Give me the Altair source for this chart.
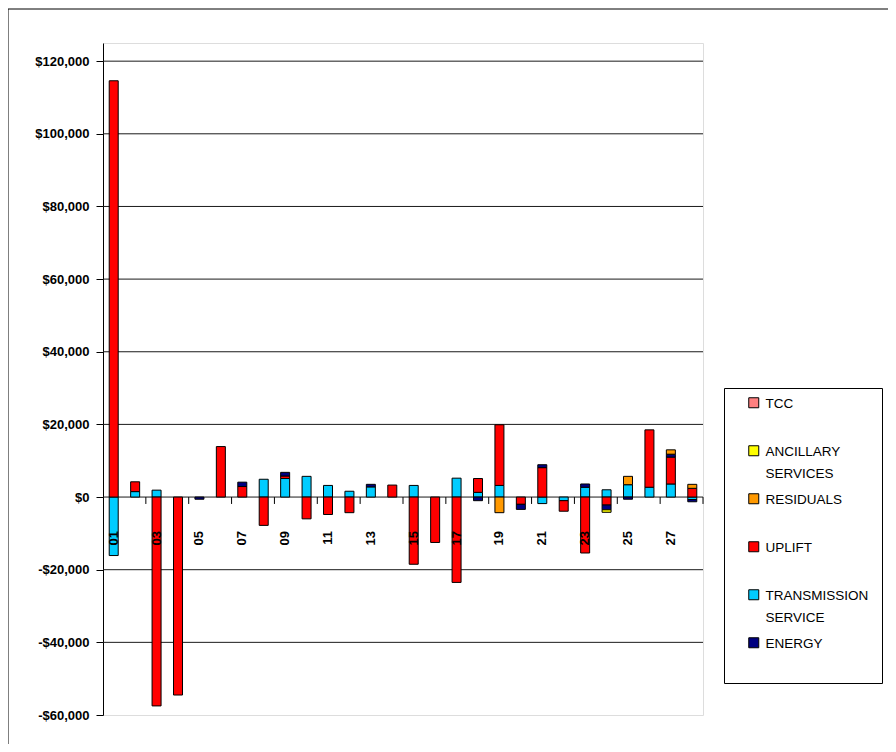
import altair as alt
import pandas as pd

days = ["01", "02", "03", "04", "05", "06", "07", "08", "09", "10", "11", "12", "13", "14",
        "15", "16", "17", "18", "19", "20", "21", "22", "23", "24", "25", "26", "27", "28"]

transmission = [-16100, 1500, 1900, 0, 0, 0, 0, 4900, 5100, 5700, 3200, 1600, 2800, 0,
                3200, 0, 5200, 1300, 3200, 0, -1800, -1000, 2700, 2000, 3400, 2700, 3600, -700]
uplift = [114600, 2700, -57500, -54500, 0, 13900, 2900, -7800, 700, -6000, -4800, -4300, 0, 3300,
          -18500, -12500, -23500, 3800, 16700, -2000, 8100, -2900, -15400, -2200, 0, 15800, 7400, 2400]
energy = [0, 0, 0, 0, -600, 0, 1200, 0, 1000, 0, 0, 0, 700, 0,
          0, 0, 0, -1000, 0, -1400, 800, 0, 900, -1300, -600, 0, 800, -600]
residuals = [0, 0, 0, 0, 0, 0, 0, 0, 0, 0, 0, 0, 0, 0,
             0, 0, 0, 0, -4300, 0, 0, 0, 0, 0, 2300, 0, 1200, 1100]
ancillary = [0, 0, 0, 0, 0, 0, 0, 0, 0, 0, 0, 0, 0, 0,
             0, 0, 0, 0, 0, 0, 0, 0, 0, -700, 0, 0, 0, 0]
tcc = [0] * 28

series_names = ["TRANSMISSION SERVICE", "UPLIFT", "ENERGY", "RESIDUALS", "ANCILLARY SERVICES", "TCC"]
series_values = [transmission, uplift, energy, residuals, ancillary, tcc]
legend_order = ["TCC", "ANCILLARY SERVICES", "RESIDUALS", "UPLIFT", "TRANSMISSION SERVICE", "ENERGY"]
series_colors = ["#FF8080", "#FFFF00", "#FF9900", "#FF0000", "#00CCFF", "#000080"]

y_ticks = [-60000, -40000, -20000, 0, 20000, 40000, 60000, 80000, 100000, 120000]
grid_values = [-40000, -20000, 0, 20000, 40000, 60000, 80000, 100000, 120000]
label_days = ["01", "03", "05", "07", "09", "11", "13", "15", "17", "19", "21", "23", "25", "27"]
tick_days = ["02", "04", "06", "08", "10", "12", "14", "16", "18", "20", "22", "24", "26", "28"]

rows = []
for k, (name, vals) in enumerate(zip(series_names, series_values)):
    for d, v in zip(days, vals):
        if v != 0:
            rows.append({"day": d, "series": name, "value": v, "ord": k})
bars_df = pd.DataFrame(rows)

FONT = "Liberation Sans"
yscale = alt.Scale(domain=[-60000, 125000], nice=False, zero=False)
xscale = alt.Scale(domain=days, paddingInner=0, paddingOuter=0)
yaxis = alt.Axis(
    values=y_ticks, grid=False, title=None,
    labelExpr="datum.value < 0 ? '-$' + format(-datum.value, ',') : '$' + format(datum.value, ',')",
    labelFont=FONT, labelFontSize=13, labelFontWeight="bold", labelColor="black",
    labelPadding=7, tickSize=7, tickColor="black", domainColor="black",
)

frame = alt.Chart(pd.DataFrame({"k": [0]})).mark_rect(
    fill=None, stroke="black", strokeWidth=1
).encode(x=alt.value(-95), x2=alt.value(820), y=alt.value(-34), y2=alt.value(760))

grid = alt.Chart(pd.DataFrame({"v": grid_values})).mark_rule(
    color="#1a1a1a", strokeWidth=1
).encode(y=alt.Y("v:Q", scale=yscale, axis=yaxis))

bars = alt.Chart(bars_df).mark_bar(size=9, stroke="black", strokeWidth=1).encode(
    x=alt.X("day:N", scale=xscale, axis=None),
    y=alt.Y("value:Q", scale=yscale, axis=yaxis, stack="zero"),
    color=alt.Color(
        "series:N",
        scale=alt.Scale(domain=legend_order, range=series_colors),
        legend=alt.Legend(
            orient="none", legendX=621, legendY=345,
            title="\u00a0", titleOrient="bottom", titleFontSize=13,
            titlePadding=7, titleFont=FONT,
            direction="vertical", strokeColor="black", fillColor="white",
            padding=13, symbolType="M-1,-2H1V0H-1Z", symbolSize=100,
            symbolStrokeColor="black", symbolStrokeWidth=1, symbolOffset=10,
            labelFont=FONT, labelFontSize=13.5, labelColor="black",
            labelExpr="split(datum.label, ' ')", labelOffset=5, labelLimit=300,
            rowPadding=10, gridAlign="all", labelBaseline="alphabetic",
        ),
    ),
    order=alt.Order("ord:Q", sort="ascending"),
)

xlabels = alt.Chart(pd.DataFrame({"day": label_days})).mark_text(
    angle=270, align="right", baseline="middle", dx=-34,
    font=FONT, fontSize=13, fontWeight="bold", color="black",
).encode(
    x=alt.X("day:N", scale=xscale, axis=None, bandPosition=0.5),
    y=alt.datum(0),
    text="day:N",
)

xticks = alt.Chart(pd.DataFrame({"day": tick_days})).mark_rule(color="black", strokeWidth=1).encode(
    x=alt.X("day:N", scale=xscale, axis=None, bandPosition=1),
    y=alt.datum(0),
    y2=alt.datum(-1900),
)

chart = alt.layer(frame, grid, bars, xticks, xlabels).properties(
    width=600, height=672,
    autosize=alt.AutoSizeParams(type="none"),
    padding={"left": 95, "top": 35, "right": 185, "bottom": 29},
    background="white",
).configure_view(stroke=None).configure(style={"guide-label": {"lineHeight": 22}})

chart.save("out.html", embed_options={"renderer": "svg", "actions": False})
